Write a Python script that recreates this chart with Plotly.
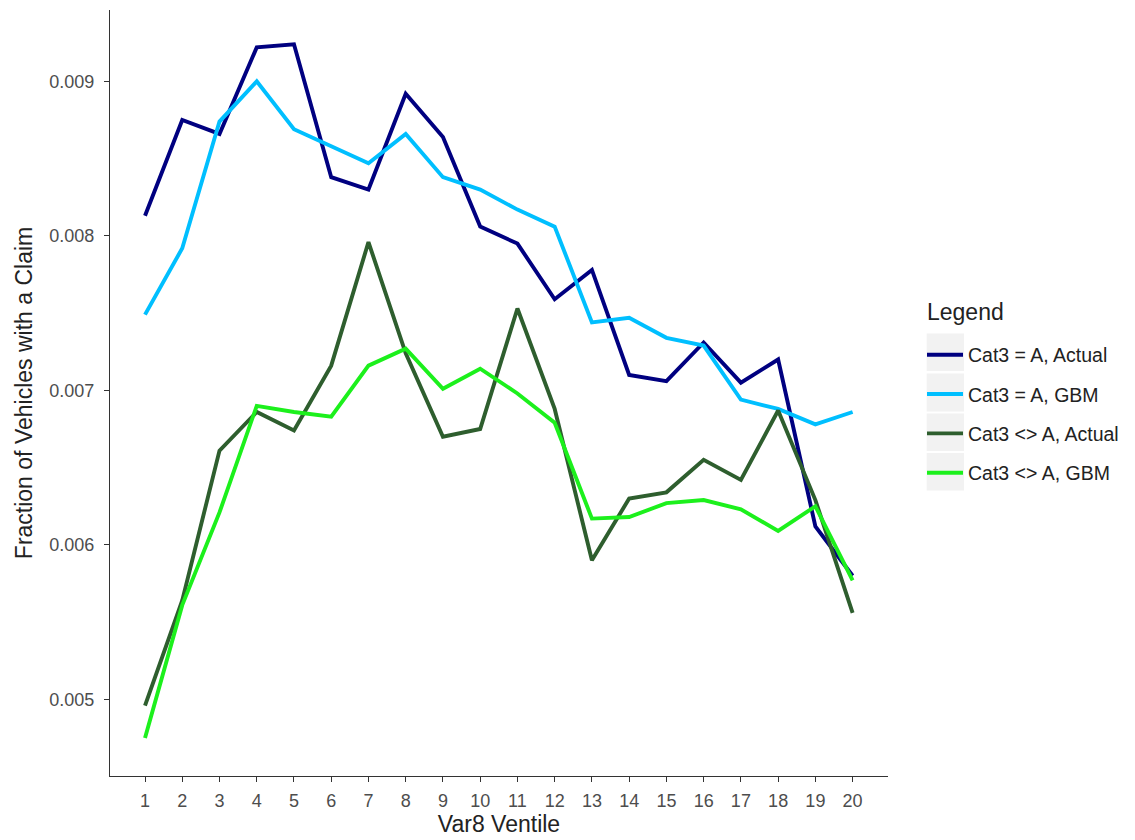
import plotly.graph_objects as go

ventile = list(range(1, 21))

actual_a = [0.00813, 0.00875, 0.00866, 0.00922, 0.00924, 0.00838, 0.00830, 0.00892, 0.00864, 0.00806,
            0.00795, 0.00759, 0.00778, 0.00710, 0.00706, 0.00731, 0.00705, 0.00720, 0.00612, 0.00580]
gbm_a = [0.00749, 0.00792, 0.00874, 0.00900, 0.00869, 0.00858, 0.00847, 0.00866, 0.00838, 0.00830,
         0.00817, 0.00806, 0.00744, 0.00747, 0.00734, 0.00729, 0.00694, 0.00688, 0.00678, 0.00686]
actual_not_a = [0.00496, 0.00564, 0.00661, 0.00686, 0.00674, 0.00716, 0.00796, 0.00724, 0.00670, 0.00675,
                0.00753, 0.00688, 0.00590, 0.00630, 0.00634, 0.00655, 0.00642, 0.00687, 0.00629, 0.00556]
gbm_not_a = [0.00475, 0.00561, 0.00621, 0.00690, 0.00686, 0.00683, 0.00716, 0.00727, 0.00701, 0.00714,
             0.00698, 0.00679, 0.00617, 0.00618, 0.00627, 0.00629, 0.00623, 0.00609, 0.00625, 0.00577]

series_names = ["Cat3 = A, Actual", "Cat3 = A, GBM", "Cat3 <> A, Actual", "Cat3 <> A, GBM"]
series_values = [actual_a, gbm_a, actual_not_a, gbm_not_a]
series_colors = ["#000080", "#00BFFF", "#2E5E2E", "#1CF01C"]

y_ticks = [0.005, 0.006, 0.007, 0.008, 0.009]

FONT = "Liberation Sans, Arial, sans-serif"

fig = go.Figure()
for i, (name, vals, col) in enumerate(zip(series_names, series_values, series_colors)):
    fig.add_trace(go.Scatter(
        x=ventile, y=vals, mode="lines", name=name,
        line=dict(color=col, width=3.9),
        legendgroup=f"g{i}",
    ))

# grey legend key backgrounds (ggplot style); paper coords of the plot area
W = 778.0
H = 766.0
for top, bot in [(333.5, 371), (373.5, 411.5), (413.5, 451), (453, 490.5)]:
    fig.add_shape(type="rect", xref="paper", yref="paper",
                  x0=(926.7 - 110) / W, x1=(964 - 110) / W,
                  y0=(776 - bot) / H, y1=(776 - top) / H,
                  fillcolor="#F2F2F2", line=dict(width=0), layer="below")

# legend title
fig.add_annotation(text="Legend", xref="paper", yref="paper",
                   x=(925 - 110) / W, xanchor="left",
                   y=(776 - 312) / H, yanchor="middle",
                   showarrow=False,
                   font=dict(family=FONT, size=23, color="#222222"))

axis_common = dict(
    showline=True, linecolor="#333333", linewidth=1.3,
    ticks="outside", ticklen=5, tickwidth=1.1, tickcolor="#333333",
    showgrid=False, zeroline=False,
    tickfont=dict(family=FONT, size=18, color="#4D4D4D"),
    title_font=dict(family=FONT, size=23, color="#222222"),
)

fig.update_layout(
    width=1135, height=840,
    margin=dict(l=102, r=255, t=2, b=72),
    paper_bgcolor="white", plot_bgcolor="white",
    font=dict(family=FONT, color="#222222"),
    xaxis=dict(
        range=[0.06, 20.95], tickmode="array", tickvals=ventile,
        ticktext=[str(v) for v in ventile],
        title=dict(text="Var8 Ventile", standoff=5),
        ticklabelstandoff=3,
        **axis_common,
    ),
    yaxis=dict(
        range=[0.004504, 0.009462], tickmode="array", tickvals=y_ticks,
        ticktext=[f"{v:.3f}" for v in y_ticks],
        title=dict(text="Fraction of Vehicles with a Claim", standoff=10),
        ticklabelstandoff=6,
        **axis_common,
    ),
    legend=dict(
        x=(922 - 110) / W, xanchor="left",
        y=(776 - 335.5) / H, yanchor="top",
        font=dict(family=FONT, size=19.5, color="#222222"),
        tracegroupgap=11,
        bgcolor="rgba(0,0,0,0)",
        itemwidth=36,
    ),
)

fig.write_html("out.html")
